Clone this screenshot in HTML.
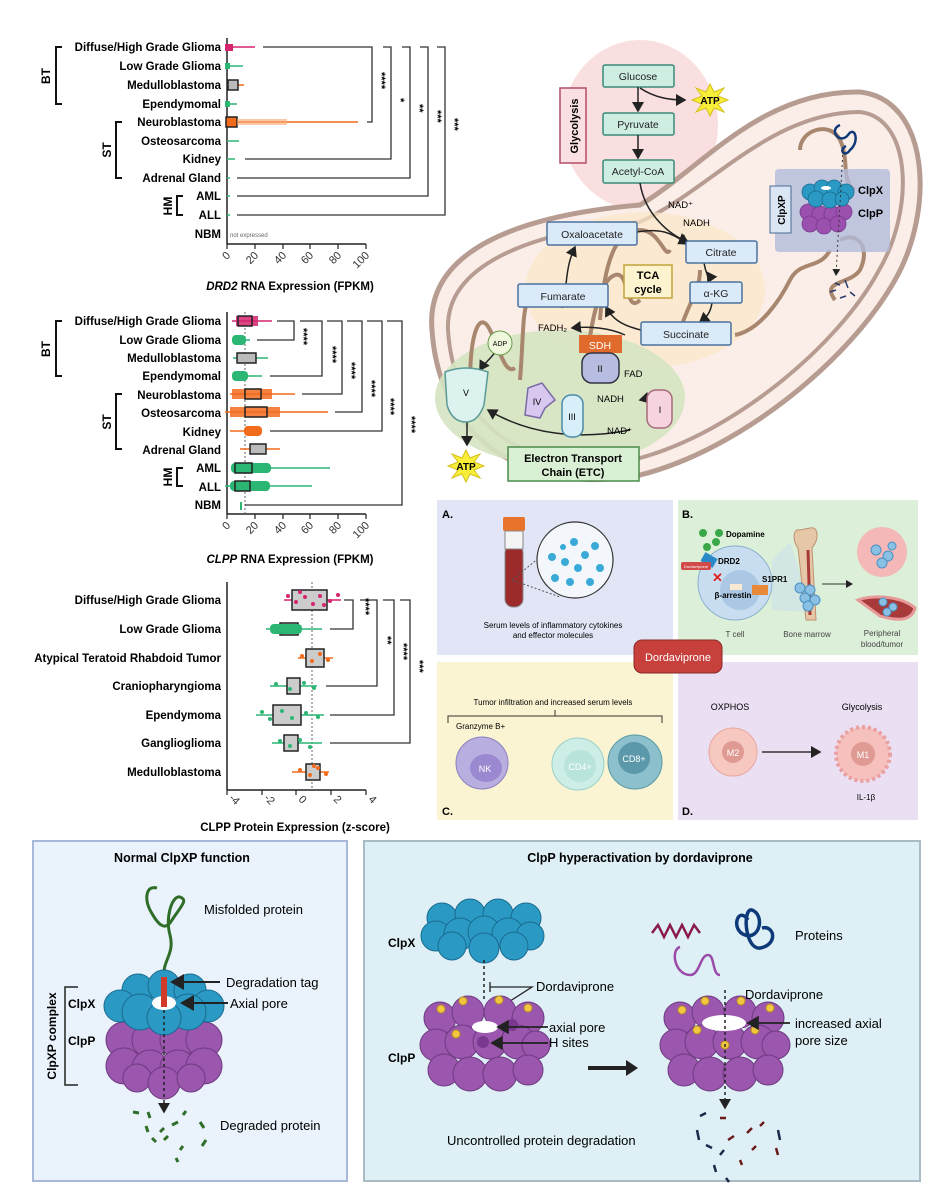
<!DOCTYPE html>
<html><head><meta charset="utf-8"><style>
body{margin:0;background:#fff}
svg{display:block;font-family:"Liberation Sans",sans-serif}
.lb{font-weight:bold;font-size:11.5px;text-anchor:end}
</style></head><body>
<svg width="935" height="1200" viewBox="0 0 935 1200" xmlns="http://www.w3.org/2000/svg">
<defs>
<marker id="ar" markerWidth="8" markerHeight="8" refX="6" refY="4" orient="auto"><path d="M0,0 L7,4 L0,8 z" fill="#222"/></marker>
</defs>

<!-- ===== Chart 1 ===== -->
<g>
<line x1="227" y1="38" x2="227" y2="244" stroke="#222" stroke-width="1.5"/>
<line x1="227" y1="244" x2="366" y2="244" stroke="#222" stroke-width="1.5"/>
<g stroke="#222" stroke-width="1.2">
<line x1="227" y1="244" x2="227" y2="249"/><line x1="255" y1="244" x2="255" y2="249"/><line x1="283" y1="244" x2="283" y2="249"/><line x1="310" y1="244" x2="310" y2="249"/><line x1="338" y1="244" x2="338" y2="249"/><line x1="366" y1="244" x2="366" y2="249"/>
</g>
<g font-size="11" fill="#333">
<text transform="translate(231,256) rotate(-45)" text-anchor="end">0</text>
<text transform="translate(259,256) rotate(-45)" text-anchor="end">20</text>
<text transform="translate(287,256) rotate(-45)" text-anchor="end">40</text>
<text transform="translate(314,256) rotate(-45)" text-anchor="end">60</text>
<text transform="translate(342,256) rotate(-45)" text-anchor="end">80</text>
<text transform="translate(370,256) rotate(-45)" text-anchor="end">100</text>
</g>
<text x="290" y="290" font-size="11.5" font-weight="bold" text-anchor="middle"><tspan font-style="italic">DRD2</tspan> RNA Expression (FPKM)</text>
<g class="lb">
<text x="221" y="51">Diffuse/High Grade Glioma</text>
<text x="221" y="70">Low Grade Glioma</text>
<text x="221" y="89">Medulloblastoma</text>
<text x="221" y="108">Ependymomal</text>
<text x="221" y="126">Neuroblastoma</text>
<text x="221" y="145">Osteosarcoma</text>
<text x="221" y="163">Kidney</text>
<text x="221" y="182">Adrenal Gland</text>
<text x="221" y="200">AML</text>
<text x="221" y="219">ALL</text>
<text x="221" y="238">NBM</text>
</g>
<text x="230" y="237" font-size="6" fill="#666">not expressed</text>
<g stroke="#111" stroke-width="2" fill="none">
<path d="M62,47 H56 V104 H62"/><path d="M122,122 H116 V178 H122"/><path d="M183,196 H177 V215 H183"/>
</g>
<g font-weight="bold" font-size="12">
<text transform="translate(50,76) rotate(-90)" text-anchor="middle">BT</text>
<text transform="translate(111,150) rotate(-90)" text-anchor="middle">ST</text>
<text transform="translate(172,206) rotate(-90)" text-anchor="middle">HM</text>
</g>
<g stroke-width="1.5">
<line x1="227" y1="47" x2="255" y2="47" stroke="#d6246e"/><rect x="225" y="44" width="8" height="7" fill="#d6246e"/>
<line x1="227" y1="66" x2="243" y2="66" stroke="#2bb673"/><rect x="225" y="63" width="5" height="6" fill="#2bb673"/>
<line x1="227" y1="85" x2="244" y2="85" stroke="#f26b1d"/><rect x="228" y="80" width="10" height="10" fill="#bbb" stroke="#222"/>
<line x1="227" y1="104" x2="237" y2="104" stroke="#2bb673"/><rect x="225" y="101" width="5" height="6" fill="#2bb673"/>
<line x1="227" y1="122" x2="358" y2="122" stroke="#f26b1d"/><rect x="226" y="117" width="11" height="10" fill="#f26b1d" stroke="#222"/><rect x="237" y="119" width="50" height="6" fill="#f8a470" opacity=".6"/>
<line x1="227" y1="141" x2="239" y2="141" stroke="#2bb673"/>
<line x1="227" y1="159" x2="235" y2="159" stroke="#2bb673"/>
<line x1="227" y1="178" x2="230" y2="178" stroke="#2bb673"/>
<line x1="227" y1="196" x2="230" y2="196" stroke="#2bb673"/>
<line x1="227" y1="215" x2="230" y2="215" stroke="#2bb673"/>
</g>
<g stroke="#333" stroke-width="1.3" fill="none">
<path d="M263,47 H372 V122 H367"/>
<path d="M383,47 H391 V159 H245"/>
<path d="M402,47 H410 V178 H237"/>
<path d="M420,47 H428 V196 H237"/>
<path d="M437,47 H445 V215 H237"/>
</g>
<g font-size="11" font-weight="bold">
<text transform="translate(378,72) rotate(90)">****</text>
<text transform="translate(397,98) rotate(90)">*</text>
<text transform="translate(416,104) rotate(90)">**</text>
<text transform="translate(434,110) rotate(90)">***</text>
<text transform="translate(451,118) rotate(90)">***</text>
</g>
</g>

<!-- ===== Chart 2 ===== -->
<g>
<line x1="227" y1="312" x2="227" y2="514" stroke="#222" stroke-width="1.5"/>
<line x1="227" y1="514" x2="366" y2="514" stroke="#222" stroke-width="1.5"/>
<line x1="245" y1="312" x2="245" y2="514" stroke="#666" stroke-dasharray="2,2"/>
<g stroke="#222" stroke-width="1.2">
<line x1="227" y1="514" x2="227" y2="519"/><line x1="255" y1="514" x2="255" y2="519"/><line x1="283" y1="514" x2="283" y2="519"/><line x1="310" y1="514" x2="310" y2="519"/><line x1="338" y1="514" x2="338" y2="519"/><line x1="366" y1="514" x2="366" y2="519"/>
</g>
<g font-size="11" fill="#333">
<text transform="translate(231,526) rotate(-45)" text-anchor="end">0</text>
<text transform="translate(259,526) rotate(-45)" text-anchor="end">20</text>
<text transform="translate(287,526) rotate(-45)" text-anchor="end">40</text>
<text transform="translate(314,526) rotate(-45)" text-anchor="end">60</text>
<text transform="translate(342,526) rotate(-45)" text-anchor="end">80</text>
<text transform="translate(370,526) rotate(-45)" text-anchor="end">100</text>
</g>
<text x="290" y="563" font-size="11.5" font-weight="bold" text-anchor="middle"><tspan font-style="italic">CLPP</tspan> RNA Expression (FPKM)</text>
<g class="lb">
<text x="221" y="325">Diffuse/High Grade Glioma</text>
<text x="221" y="344">Low Grade Glioma</text>
<text x="221" y="362">Medulloblastoma</text>
<text x="221" y="380">Ependymomal</text>
<text x="221" y="399">Neuroblastoma</text>
<text x="221" y="417">Osteosarcoma</text>
<text x="221" y="436">Kidney</text>
<text x="221" y="454">Adrenal Gland</text>
<text x="221" y="472">AML</text>
<text x="221" y="491">ALL</text>
<text x="221" y="509">NBM</text>
</g>
<g stroke="#111" stroke-width="2" fill="none">
<path d="M62,321 H56 V376 H62"/><path d="M122,394 H116 V449 H122"/><path d="M183,468 H177 V486 H183"/>
</g>
<g font-weight="bold" font-size="12">
<text transform="translate(50,349) rotate(-90)" text-anchor="middle">BT</text>
<text transform="translate(111,422) rotate(-90)" text-anchor="middle">ST</text>
<text transform="translate(172,477) rotate(-90)" text-anchor="middle">HM</text>
</g>
<g stroke-width="1.5">
<line x1="232" y1="321" x2="272" y2="321" stroke="#d6246e"/><rect x="236" y="316" width="22" height="10" fill="#d6246e" opacity=".85"/><rect x="238" y="316" width="14" height="10" fill="none" stroke="#222"/>
<line x1="235" y1="340" x2="250" y2="340" stroke="#2bb673"/><rect x="232" y="335" width="14" height="10" rx="4" fill="#2bb673"/>
<line x1="233" y1="358" x2="268" y2="358" stroke="#2bb673"/><rect x="237" y="353" width="19" height="10" fill="#bbb" stroke="#222"/>
<line x1="235" y1="376" x2="262" y2="376" stroke="#2bb673"/><rect x="232" y="371" width="16" height="10" rx="4" fill="#2bb673"/>
<line x1="230" y1="394" x2="295" y2="394" stroke="#f26b1d"/><rect x="232" y="389" width="40" height="10" fill="#f26b1d" opacity=".85"/><rect x="245" y="389" width="16" height="10" fill="none" stroke="#222"/>
<line x1="225" y1="412" x2="328" y2="412" stroke="#f26b1d"/><rect x="230" y="407" width="50" height="10" fill="#f26b1d" opacity=".85"/><rect x="245" y="407" width="22" height="10" fill="none" stroke="#222"/>
<line x1="230" y1="431" x2="262" y2="431" stroke="#f26b1d"/><rect x="244" y="426" width="18" height="10" rx="4" fill="#f26b1d"/>
<line x1="240" y1="449" x2="280" y2="449" stroke="#f26b1d"/><rect x="250" y="444" width="16" height="10" fill="#bbb" stroke="#222"/>
<line x1="232" y1="468" x2="330" y2="468" stroke="#2bb673"/><rect x="231" y="463" width="40" height="10" rx="4" fill="#2bb673"/><rect x="235" y="463" width="17" height="10" fill="none" stroke="#222"/>
<line x1="225" y1="486" x2="312" y2="486" stroke="#2bb673"/><rect x="230" y="481" width="40" height="10" rx="4" fill="#2bb673"/><rect x="235" y="481" width="15" height="10" fill="none" stroke="#222"/>
<line x1="241" y1="502" x2="241" y2="510" stroke="#2bb673" stroke-width="2"/>
</g>
<g stroke="#333" stroke-width="1.3" fill="none">
<path d="M277,321 H294 V340 H257"/>
<path d="M300,321 H322 V376 H270"/>
<path d="M327,321 H342 V394 H302"/>
<path d="M347,321 H362 V412 H335"/>
<path d="M367,321 H382 V431 H270"/>
<path d="M387,321 H402 V505 H245"/>
</g>
<g font-size="11" font-weight="bold">
<text transform="translate(300,328) rotate(90)">****</text>
<text transform="translate(329,346) rotate(90)">****</text>
<text transform="translate(348,362) rotate(90)">****</text>
<text transform="translate(368,380) rotate(90)">****</text>
<text transform="translate(387,398) rotate(90)">****</text>
<text transform="translate(408,416) rotate(90)">****</text>
</g>
</g>

<!-- ===== Chart 3 ===== -->
<g>
<line x1="227" y1="582" x2="227" y2="790" stroke="#222" stroke-width="1.5"/>
<line x1="227" y1="790" x2="366" y2="790" stroke="#222" stroke-width="1.5"/>
<line x1="312" y1="582" x2="312" y2="790" stroke="#666" stroke-dasharray="2,2"/>
<g stroke="#222" stroke-width="1.2">
<line x1="227" y1="790" x2="227" y2="795"/><line x1="262" y1="790" x2="262" y2="795"/><line x1="296" y1="790" x2="296" y2="795"/><line x1="331" y1="790" x2="331" y2="795"/><line x1="366" y1="790" x2="366" y2="795"/>
</g>
<g font-size="11" fill="#333">
<text transform="translate(232,802) rotate(45)" text-anchor="middle">-4</text>
<text transform="translate(267,802) rotate(45)" text-anchor="middle">-2</text>
<text transform="translate(300,802) rotate(45)" text-anchor="middle">0</text>
<text transform="translate(335,802) rotate(45)" text-anchor="middle">2</text>
<text transform="translate(370,802) rotate(45)" text-anchor="middle">4</text>
</g>
<text x="295" y="831" font-size="11.5" font-weight="bold" text-anchor="middle">CLPP Protein Expression (z-score)</text>
<g class="lb">
<text x="221" y="604">Diffuse/High Grade Glioma</text>
<text x="221" y="633">Low Grade Glioma</text>
<text x="221" y="662">Atypical Teratoid Rhabdoid Tumor</text>
<text x="221" y="690">Craniopharyngioma</text>
<text x="221" y="719">Ependymoma</text>
<text x="221" y="747">Ganglioglioma</text>
<text x="221" y="776">Medulloblastoma</text>
</g>
<g stroke-width="1.5" stroke="#222">
<line x1="284" y1="600" x2="341" y2="600" stroke="#d6246e"/><rect x="292" y="590" width="35" height="20" fill="#ccc"/>
<line x1="266" y1="629" x2="322" y2="629" stroke="#2bb673"/><rect x="280" y="623" width="18" height="12" fill="#ccc"/><rect x="270" y="624" width="32" height="10" rx="4" fill="#2bb673" stroke="none"/>
<line x1="298" y1="658" x2="333" y2="658" stroke="#f26b1d"/><rect x="306" y="649" width="18" height="18" fill="#ccc"/>
<line x1="270" y1="686" x2="317" y2="686" stroke="#2bb673"/><rect x="287" y="678" width="13" height="16" fill="#ccc"/>
<line x1="256" y1="715" x2="324" y2="715" stroke="#2bb673"/><rect x="273" y="705" width="28" height="20" fill="#ccc"/>
<line x1="272" y1="743" x2="322" y2="743" stroke="#2bb673"/><rect x="284" y="735" width="14" height="16" fill="#ccc"/>
<line x1="292" y1="772" x2="329" y2="772" stroke="#f26b1d"/><rect x="306" y="764" width="14" height="16" fill="#ccc"/>
</g>
<g>
<g fill="#d6246e"><circle cx="288" cy="596" r="2"/><circle cx="296" cy="602" r="2"/><circle cx="305" cy="597" r="2"/><circle cx="313" cy="604" r="2"/><circle cx="320" cy="596" r="2"/><circle cx="330" cy="601" r="2"/><circle cx="338" cy="595" r="2"/><circle cx="300" cy="592" r="2"/><circle cx="324" cy="605" r="2"/></g>
<g fill="#f26b1d"><circle cx="302" cy="656" r="2"/><circle cx="312" cy="661" r="2"/><circle cx="320" cy="654" r="2"/><circle cx="328" cy="660" r="2"/><circle cx="300" cy="770" r="2"/><circle cx="310" cy="775" r="2"/><circle cx="318" cy="768" r="2"/><circle cx="326" cy="774" r="2"/><circle cx="314" cy="766" r="2"/></g>
<g fill="#2bb673"><circle cx="276" cy="684" r="2"/><circle cx="290" cy="689" r="2"/><circle cx="304" cy="683" r="2"/><circle cx="314" cy="688" r="2"/><circle cx="262" cy="712" r="2"/><circle cx="270" cy="719" r="2"/><circle cx="282" cy="711" r="2"/><circle cx="292" cy="718" r="2"/><circle cx="306" cy="713" r="2"/><circle cx="318" cy="717" r="2"/><circle cx="280" cy="741" r="2"/><circle cx="290" cy="746" r="2"/><circle cx="300" cy="740" r="2"/><circle cx="310" cy="747" r="2"/></g>
</g>
<g stroke="#333" stroke-width="1.3" fill="none">
<path d="M344,600 H353 V629 H330"/>
<path d="M360,600 H377 V686 H326"/>
<path d="M383,600 H394 V715 H330"/>
<path d="M400,600 H410 V743 H330"/>
</g>
<g font-size="11" font-weight="bold">
<text transform="translate(362,598) rotate(90)">****</text>
<text transform="translate(384,636) rotate(90)">**</text>
<text transform="translate(400,643) rotate(90)">****</text>
<text transform="translate(416,660) rotate(90)">***</text>
</g>
</g>

<!-- ===== Mitochondrion ===== -->
<g>
<ellipse cx="640" cy="125" rx="78" ry="85" fill="#fadfe0"/>
<path d="M432,330 C425,250 520,215 640,205 C700,170 760,90 860,92 C930,100 935,210 895,280 C850,360 740,450 640,475 C540,495 440,450 432,330 Z" fill="#fbeee8" stroke="#b79c92" stroke-width="5"/>
<path d="M448,330 C445,265 530,232 640,222 C710,190 770,112 860,112 C912,118 915,210 878,272 C838,345 735,432 640,458 C545,478 455,440 448,330 Z" fill="none" stroke="#b79c92" stroke-width="4"/>
<ellipse cx="645" cy="290" rx="120" ry="78" fill="#fbe8c8" opacity=".7"/>
<ellipse cx="560" cy="398" rx="125" ry="68" fill="#d5e4c2" opacity=".9"/>
<g fill="none" stroke="#a8876e" stroke-width="4">
<path d="M470,385 C470,330 480,310 490,330 C500,350 505,375 515,368"/>
<path d="M520,380 C525,320 520,295 540,290 C560,285 560,320 565,300"/>
<path d="M585,380 C590,320 600,280 615,275 C630,270 625,315 640,300"/>
<path d="M600,320 C605,250 620,230 640,230 C660,230 665,260 670,250"/>
<path d="M680,330 C690,300 700,290 700,270"/>
<path d="M735,335 C760,330 780,300 790,280 C800,260 820,270 830,250"/>
<path d="M800,150 C800,130 830,120 840,140 C850,160 840,180 855,190"/>
<path d="M840,240 C860,230 870,250 860,270 C850,285 820,280 835,300"/>
</g>
<rect x="560" y="88" width="26" height="75" fill="#fae0e2" stroke="#b44c6a" stroke-width="1.5"/>
<text transform="translate(578,126) rotate(-90)" font-size="11" font-weight="bold" text-anchor="middle">Glycolysis</text>
<g fill="#cfeee3" stroke="#3a8a78" stroke-width="1.5">
<rect x="603" y="65" width="71" height="22" rx="2"/><rect x="603" y="113" width="71" height="22" rx="2"/><rect x="603" y="160" width="71" height="23" rx="2"/>
</g>
<g font-size="10.5" text-anchor="middle" fill="#222">
<text x="638" y="80">Glucose</text><text x="638" y="128">Pyruvate</text><text x="638" y="175">Acetyl-CoA</text>
</g>
<g stroke="#222" stroke-width="1.5" fill="none" marker-end="url(#ar)">
<line x1="638" y1="87" x2="638" y2="111"/><line x1="638" y1="135" x2="638" y2="158"/>
<path d="M640,88 C655,98 670,100 685,100"/>
<path d="M640,183 C645,215 670,235 688,242"/>
<path d="M637,232 C660,228 670,232 688,244"/>
<path d="M704,263 C706,275 710,278 708,282"/>
<path d="M712,303 C710,315 705,318 700,322"/>
<path d="M641,330 C620,325 612,318 606,307"/>
<path d="M566,284 C568,265 570,258 575,247"/>
<path d="M625,335 C610,328 590,326 572,328"/>
<path d="M658,398 C650,392 648,398 640,400"/>
<path d="M630,430 C580,440 530,435 488,410"/>
<path d="M467,420 L467,445"/>
<path d="M495,352 C490,360 485,362 480,370"/>
</g>
<polygon points="710,84 714,92 724,88 718,96 728,100 718,104 724,112 714,108 710,116 706,108 696,112 702,104 692,100 702,96 696,88 706,92" fill="#f8ee3a" stroke="#d6c01b"/>
<text x="710" y="104" font-size="10" font-weight="bold" text-anchor="middle">ATP</text>
<text x="668" y="208" font-size="9.5">NAD⁺</text><text x="683" y="226" font-size="9.5">NADH</text>
<g fill="#dbeaf8" stroke="#4a72a0" stroke-width="1.5">
<rect x="547" y="222" width="90" height="23" rx="2"/><rect x="686" y="241" width="71" height="22" rx="2"/><rect x="690" y="282" width="52" height="21" rx="2"/><rect x="518" y="284" width="90" height="23" rx="2"/><rect x="641" y="322" width="90" height="23" rx="2"/>
</g>
<g font-size="10.5" text-anchor="middle" fill="#222">
<text x="592" y="238">Oxaloacetate</text><text x="721" y="256">Citrate</text><text x="716" y="297">α-KG</text><text x="563" y="300">Fumarate</text><text x="686" y="338">Succinate</text>
</g>
<rect x="624" y="265" width="48" height="33" fill="#fdf3cf" stroke="#c4a33a" stroke-width="1.5"/>
<text x="648" y="279" font-size="11" font-weight="bold" text-anchor="middle">TCA</text><text x="648" y="293" font-size="11" font-weight="bold" text-anchor="middle">cycle</text>
<text x="538" y="331" font-size="9.5">FADH₂</text>
<rect x="579" y="335" width="43" height="18" fill="#e06b2c"/><text x="600" y="349" font-size="10.5" fill="#fff" text-anchor="middle">SDH</text>
<rect x="582" y="353" width="37" height="30" rx="10" fill="#b6bde0" stroke="#334" stroke-width="1.5"/><text x="600" y="372" font-size="9" text-anchor="middle">II</text>
<text x="624" y="377" font-size="9.5">FAD</text>
<circle cx="500" cy="343" r="12" fill="#eef7dc" stroke="#6a9a4a"/><text x="500" y="346" font-size="7" text-anchor="middle">ADP</text>
<path d="M445,372 Q466,364 488,372 L484,405 Q478,422 466,422 Q452,422 447,405 Z" fill="#dbf2ee" stroke="#5a9a96" stroke-width="1.5"/><text x="466" y="396" font-size="9" text-anchor="middle">V</text>
<path d="M528,388 L542,383 L555,400 L545,408 L540,418 L525,415 Z" fill="#d8c8ef" stroke="#7a6aa8" stroke-width="1.5"/><text x="537" y="405" font-size="9" text-anchor="middle">IV</text>
<rect x="562" y="395" width="21" height="42" rx="9" fill="#d8eef8" stroke="#4a8aa8" stroke-width="1.5"/><text x="572" y="420" font-size="9" text-anchor="middle">III</text>
<rect x="647" y="390" width="25" height="38" rx="9" fill="#f5d3df" stroke="#a86a7a" stroke-width="1.5"/><text x="660" y="413" font-size="9" text-anchor="middle">I</text>
<text x="597" y="402" font-size="9.5">NADH</text><text x="607" y="434" font-size="9.5">NAD⁺</text>
<rect x="508" y="447" width="131" height="34" fill="#d9f0d5" stroke="#4a8a4a" stroke-width="1.5"/>
<text x="573" y="462" font-size="11" font-weight="bold" text-anchor="middle">Electron Transport</text><text x="573" y="476" font-size="11" font-weight="bold" text-anchor="middle">Chain (ETC)</text>
<polygon points="466,450 470,458 480,454 474,462 484,466 474,470 480,478 470,474 466,482 462,474 452,478 458,470 448,466 458,462 452,454 462,458" fill="#f8ee3a" stroke="#d6c01b"/>
<text x="466" y="470" font-size="10" font-weight="bold" text-anchor="middle">ATP</text>
<rect x="775" y="169" width="115" height="83" rx="4" fill="#b3bcdc" opacity=".8"/>
<rect x="770" y="186" width="21" height="47" fill="#dbe6f4" stroke="#4a6a90"/>
<text transform="translate(785,210) rotate(-90)" font-size="10" font-weight="bold" text-anchor="middle">ClpXP</text>
<g fill="#9b4fae" stroke="#7a3a8c" stroke-width=".8"><circle cx="808" cy="212" r="8"/><circle cx="820" cy="214" r="8"/><circle cx="832" cy="214" r="8"/><circle cx="844" cy="212" r="8"/><circle cx="810" cy="224" r="8"/><circle cx="824" cy="226" r="8"/><circle cx="838" cy="224" r="8"/></g>
<g fill="#2a9ac4" stroke="#1a6a90" stroke-width=".8"><circle cx="810" cy="192" r="8"/><circle cx="822" cy="188" r="8"/><circle cx="834" cy="188" r="8"/><circle cx="846" cy="192" r="8"/><circle cx="816" cy="199" r="8"/><circle cx="830" cy="200" r="8"/><circle cx="842" cy="199" r="7"/></g>
<ellipse cx="826" cy="188" rx="5" ry="2" fill="#fff"/>
<text x="858" y="194" font-size="11" font-weight="bold">ClpX</text><text x="858" y="217" font-size="11" font-weight="bold">ClpP</text>
<path d="M840,125 C828,130 840,145 848,135 C855,125 860,142 850,150 C845,158 838,150 846,146" fill="none" stroke="#123a7a" stroke-width="2.5"/>
<line x1="843" y1="150" x2="836" y2="275" stroke="#333" stroke-dasharray="2,3" marker-end="url(#ar)"/>
<g stroke="#2a3a6a" stroke-width="1.5"><line x1="835" y1="283" x2="840" y2="285"/><line x1="845" y1="280" x2="848" y2="288"/><line x1="830" y1="292" x2="836" y2="290"/><line x1="850" y1="292" x2="855" y2="296"/><line x1="840" y1="298" x2="846" y2="296"/></g>
</g>

<!-- ===== Panels A-D ===== -->
<rect x="437" y="500" width="236" height="155" fill="#e1e5f6"/>
<rect x="678" y="500" width="240" height="155" fill="#dcefd8"/>
<rect x="437" y="662" width="236" height="158" fill="#fbf4d2"/>
<rect x="678" y="662" width="240" height="158" fill="#ebdff3"/>
<g font-size="11" font-weight="bold"><text x="442" y="518">A.</text><text x="682" y="518">B.</text><text x="442" y="815">C.</text><text x="682" y="815">D.</text></g>
<rect x="505" y="545" width="18" height="62" rx="8" fill="#9c2a2a" stroke="#888"/>
<rect x="503" y="517" width="22" height="14" rx="2" fill="#e8732a"/>
<rect x="505" y="531" width="18" height="18" fill="#f4f4f4" stroke="#888"/>
<line x1="512" y1="580" x2="545" y2="553" stroke="#555" stroke-dasharray="2,2"/><line x1="512" y1="580" x2="560" y2="597" stroke="#555" stroke-dasharray="2,2"/>
<circle cx="575" cy="560" r="38" fill="#f3f6fb" stroke="#333" stroke-width="1.2"/>
<g fill="#3aaad8"><circle cx="552" cy="557" r="4"/><circle cx="574" cy="542" r="4"/><circle cx="595" cy="546" r="4"/><circle cx="565" cy="562" r="4"/><circle cx="585" cy="555" r="4"/><circle cx="578" cy="568" r="4"/><circle cx="600" cy="568" r="4"/><circle cx="555" cy="578" r="4"/><circle cx="570" cy="582" r="4"/><circle cx="590" cy="582" r="4"/><circle cx="563" cy="547" r="3"/></g>
<text x="553" y="628" font-size="8" text-anchor="middle">Serum levels of inflammatory cytokines</text>
<text x="553" y="638" font-size="8" text-anchor="middle">and effector molecules</text>
<circle cx="735" cy="583" r="37" fill="#c8def0" stroke="#8ab0cc"/>
<circle cx="740" cy="590" r="20" fill="#aac8e4"/>
<path d="M772,560 L790,542 L812,612 L772,610 Z" fill="#c8def0" opacity=".5"/>
<g fill="#3aa84a"><circle cx="703" cy="533" r="4"/><circle cx="719" cy="533" r="4"/><circle cx="716" cy="542" r="4"/><circle cx="707" cy="547" r="4"/></g>
<text x="726" y="537" font-size="8" font-weight="bold">Dopamine</text>
<rect x="702" y="555" width="14" height="10" fill="#2a8ac8" transform="rotate(30 709 560)"/>
<text x="718" y="564" font-size="8" font-weight="bold">DRD2</text>
<rect x="681" y="562" width="30" height="8" rx="2" fill="#d04a4a"/><text x="696" y="568" font-size="4" fill="#fff" text-anchor="middle">Dordaviprone</text>
<text x="712" y="582" font-size="13" fill="#e02020" font-weight="bold">✕</text>
<rect x="730" y="584" width="12" height="6" fill="#fbe8d0"/>
<text x="733" y="598" font-size="8" font-weight="bold" text-anchor="middle">β-arrestin</text>
<text x="762" y="582" font-size="8" font-weight="bold">S1PR1</text>
<rect x="752" y="585" width="16" height="10" fill="#e8893a"/>
<path d="M800,530 C793,528 792,540 798,548 L806,620 L816,620 L812,548 C820,538 818,526 810,528 Z" fill="#e6c8a8" stroke="#c09070"/>
<line x1="808" y1="550" x2="810" y2="615" stroke="#a83a3a" stroke-width="3"/>
<g fill="#8ac0e4" stroke="#4a90c0"><circle cx="800" cy="588" r="5"/><circle cx="810" cy="590" r="5"/><circle cx="805" cy="598" r="5"/><circle cx="815" cy="600" r="5"/><circle cx="808" cy="606" r="5"/></g>
<line x1="822" y1="584" x2="852" y2="584" stroke="#333" marker-end="url(#ar)"/>
<circle cx="882" cy="552" r="25" fill="#f4b8b8"/>
<g fill="#8ac0e4" stroke="#4a90c0"><circle cx="876" cy="550" r="5"/><circle cx="888" cy="556" r="5"/><circle cx="882" cy="563" r="5"/><circle cx="892" cy="546" r="4"/></g>
<path d="M858,600 C870,595 900,595 915,608 C912,620 900,622 880,616 Z" fill="#a83a3a" stroke="#e89a9a" stroke-width="3"/>
<g fill="#8ac0e4" stroke="#4a90c0"><circle cx="883" cy="602" r="4"/><circle cx="893" cy="607" r="4"/><circle cx="887" cy="612" r="4"/></g>
<text x="735" y="637" font-size="8" text-anchor="middle" fill="#444">T cell</text>
<text x="807" y="637" font-size="8" text-anchor="middle" fill="#444">Bone marrow</text>
<text x="882" y="636" font-size="8" text-anchor="middle" fill="#444">Peripheral</text>
<text x="882" y="647" font-size="8" text-anchor="middle" fill="#444">blood/tumor</text>
<text x="553" y="705" font-size="8" text-anchor="middle">Tumor infiltration and increased serum levels</text>
<path d="M448,723 V716 H662 V723 M555,716 V710" fill="none" stroke="#333"/>
<text x="456" y="729" font-size="8">Granzyme B+</text>
<circle cx="482" cy="763" r="26" fill="#b8aee0" stroke="#8a80c0"/><ellipse cx="486" cy="768" rx="16" ry="14" fill="#9a88d0"/><text x="485" y="772" font-size="9" fill="#fff" text-anchor="middle">NK</text>
<circle cx="578" cy="764" r="26" fill="#cdeee6" stroke="#9ad0c8"/><circle cx="580" cy="766" r="16" fill="#b8e4dc"/><text x="580" y="770" font-size="9" fill="#fff" text-anchor="middle">CD4+</text>
<circle cx="635" cy="762" r="27" fill="#8cc0cc" stroke="#5a9aa8"/><circle cx="634" cy="758" r="16" fill="#5a98aa"/><text x="634" y="762" font-size="9" fill="#fff" text-anchor="middle">CD8+</text>
<text x="730" y="710" font-size="9" text-anchor="middle">OXPHOS</text>
<text x="862" y="710" font-size="9" text-anchor="middle">Glycolysis</text>
<circle cx="733" cy="752" r="24" fill="#f6c8c0" stroke="#e8a8a0"/><circle cx="733" cy="752" r="11" fill="#e09a94"/><text x="733" y="756" font-size="9" fill="#fff" text-anchor="middle">M2</text>
<line x1="762" y1="752" x2="820" y2="752" stroke="#333" stroke-width="1.5" marker-end="url(#ar)"/>
<circle cx="863" cy="754" r="27" fill="#f6c0bc" stroke="#e8a0a0" stroke-width="4" stroke-dasharray="3,3"/><circle cx="863" cy="754" r="12" fill="#e09a94"/><text x="863" y="758" font-size="9" fill="#fff" text-anchor="middle">M1</text>
<text x="866" y="800" font-size="8" text-anchor="middle">IL-1β</text>
<rect x="634" y="640" width="88" height="33" rx="8" fill="#c8403c" stroke="#8a2a28"/>
<text x="678" y="661" font-size="11" fill="#fff" text-anchor="middle">Dordaviprone</text>

<!-- ===== Bottom panels ===== -->
<rect x="33" y="841" width="314" height="340" fill="#eaf2fb" stroke="#a8b8d8" stroke-width="2"/>
<rect x="364" y="841" width="556" height="340" fill="#def0f6" stroke="#a8bcc4" stroke-width="2"/>
<text x="182" y="862" font-size="12.5" font-weight="bold" text-anchor="middle">Normal ClpXP function</text>
<text x="640" y="862" font-size="12.5" font-weight="bold" text-anchor="middle">ClpP hyperactivation by dordaviprone</text>
<path d="M157,888 C145,885 145,900 150,910 C158,925 165,932 172,920 C182,905 188,900 180,897 C172,895 165,918 170,935 C175,955 162,960 164,978" fill="none" stroke="#2e6e28" stroke-width="3"/>
<g fill="#9b56ad" stroke="#6e3a80" stroke-width="1"><circle cx="124" cy="1040" r="18"/><circle cx="150" cy="1040" r="18"/><circle cx="178" cy="1040" r="18"/><circle cx="204" cy="1040" r="18"/><circle cx="124" cy="1066" r="18"/><circle cx="150" cy="1068" r="18"/><circle cx="178" cy="1068" r="18"/><circle cx="204" cy="1066" r="18"/><circle cx="137" cy="1078" r="14"/><circle cx="164" cy="1083" r="16"/><circle cx="191" cy="1078" r="14"/></g>
<g fill="#2a9ac4" stroke="#1a6a90" stroke-width="1"><circle cx="138" cy="990" r="16"/><circle cx="164" cy="986" r="16"/><circle cx="190" cy="990" r="16"/><circle cx="120" cy="1006" r="16"/><circle cx="208" cy="1006" r="16"/><circle cx="140" cy="1012" r="18"/><circle cx="188" cy="1012" r="18"/><circle cx="164" cy="1018" r="17"/></g>
<ellipse cx="164" cy="1003" rx="12" ry="7" fill="#fff"/>
<rect x="161" y="977" width="6" height="30" fill="#d23a2a"/>
<line x1="164" y1="1010" x2="164" y2="1112" stroke="#222" stroke-dasharray="3,3" stroke-width="1.5" marker-end="url(#ar)"/>
<g stroke="#222" stroke-width="2" marker-end="url(#ar)"><line x1="220" y1="982" x2="172" y2="982"/><line x1="228" y1="1003" x2="182" y2="1003"/></g>
<text x="204" y="914" font-size="13">Misfolded protein</text>
<text x="226" y="987" font-size="13">Degradation tag</text>
<text x="230" y="1008" font-size="13">Axial pore</text>
<text x="220" y="1130" font-size="13">Degraded protein</text>
<text x="68" y="1008" font-size="12" font-weight="bold">ClpX</text>
<text x="68" y="1045" font-size="12" font-weight="bold">ClpP</text>
<path d="M78,987 H65 V1085 H78" fill="none" stroke="#222" stroke-width="1.5"/>
<text transform="translate(56,1036) rotate(-90)" font-size="12" font-weight="bold" text-anchor="middle">ClpXP complex</text>
<g stroke="#2e6e28" stroke-width="3"><line x1="133" y1="1112" x2="139" y2="1113"/><line x1="148" y1="1112" x2="150" y2="1118"/><line x1="183" y1="1115" x2="186" y2="1111"/><line x1="146" y1="1126" x2="148" y2="1132"/><line x1="160" y1="1132" x2="164" y2="1128"/><line x1="172" y1="1125" x2="178" y2="1122"/><line x1="152" y1="1138" x2="156" y2="1142"/><line x1="164" y1="1140" x2="168" y2="1136"/><line x1="200" y1="1122" x2="204" y2="1128"/><line x1="202" y1="1146" x2="206" y2="1140"/><line x1="180" y1="1150" x2="183" y2="1146"/><line x1="176" y1="1158" x2="178" y2="1162"/></g>
<g fill="#2a9ac4" stroke="#1a6a90" stroke-width="1"><circle cx="442" cy="918" r="15"/><circle cx="470" cy="914" r="15"/><circle cx="498" cy="914" r="15"/><circle cx="526" cy="918" r="15"/><circle cx="436" cy="936" r="15"/><circle cx="460" cy="934" r="16"/><circle cx="484" cy="932" r="16"/><circle cx="508" cy="934" r="16"/><circle cx="530" cy="936" r="14"/><circle cx="452" cy="946" r="14"/><circle cx="484" cy="948" r="15"/><circle cx="514" cy="946" r="14"/></g>
<line x1="484" y1="960" x2="484" y2="1000" stroke="#222" stroke-dasharray="3,3" stroke-width="1.5"/>
<path d="M490,982 V992 M490,987 H532 L507,1003" fill="none" stroke="#222" stroke-width="1.3"/>
<g fill="#9b56ad" stroke="#6e3a80" stroke-width="1"><circle cx="440" cy="1018" r="16"/><circle cx="468" cy="1012" r="16"/><circle cx="500" cy="1012" r="16"/><circle cx="528" cy="1018" r="16"/><circle cx="436" cy="1045" r="16"/><circle cx="462" cy="1042" r="17"/><circle cx="490" cy="1042" r="17"/><circle cx="518" cy="1042" r="17"/><circle cx="536" cy="1045" r="14"/><circle cx="444" cy="1070" r="16"/><circle cx="470" cy="1074" r="17"/><circle cx="500" cy="1074" r="17"/><circle cx="528" cy="1070" r="15"/></g>
<ellipse cx="485" cy="1027" rx="13" ry="6" fill="#fff"/>
<circle cx="512" cy="1025" r="6" fill="#7a3890"/><circle cx="483" cy="1042" r="6" fill="#7a3890"/>
<g fill="#f2c640" stroke="#b89020"><circle cx="441" cy="1009" r="4"/><circle cx="463" cy="1001" r="4"/><circle cx="499" cy="1000" r="4"/><circle cx="528" cy="1008" r="4"/><circle cx="456" cy="1034" r="4"/></g>
<g stroke="#222" stroke-width="1.8" marker-end="url(#ar)"><line x1="548" y1="1027" x2="498" y2="1027"/><line x1="548" y1="1043" x2="492" y2="1043"/></g>
<text x="536" y="991" font-size="13">Dordaviprone</text>
<text x="549" y="1032" font-size="13">axial pore</text>
<text x="549" y="1047" font-size="13">H sites</text>
<text x="388" y="947" font-size="12" font-weight="bold">ClpX</text>
<text x="388" y="1062" font-size="12" font-weight="bold">ClpP</text>
<path d="M588,1066 H626 V1060 L638,1068 L626,1076 V1070 H588 Z" fill="#222"/>
<g fill="#9b56ad" stroke="#6e3a80" stroke-width="1"><circle cx="680" cy="1018" r="16"/><circle cx="708" cy="1012" r="16"/><circle cx="740" cy="1012" r="16"/><circle cx="768" cy="1018" r="16"/><circle cx="676" cy="1045" r="16"/><circle cx="702" cy="1042" r="17"/><circle cx="730" cy="1042" r="17"/><circle cx="758" cy="1042" r="17"/><circle cx="776" cy="1045" r="14"/><circle cx="684" cy="1070" r="16"/><circle cx="710" cy="1074" r="17"/><circle cx="740" cy="1074" r="17"/><circle cx="768" cy="1070" r="15"/></g>
<ellipse cx="724" cy="1023" rx="22" ry="8" fill="#fff"/>
<g fill="#f2c640" stroke="#b89020"><circle cx="682" cy="1010" r="4"/><circle cx="705" cy="1001" r="4"/><circle cx="741" cy="1001" r="4"/><circle cx="770" cy="1008" r="4"/><circle cx="697" cy="1030" r="4"/><circle cx="755" cy="1030" r="4"/><circle cx="725" cy="1045" r="4"/></g>
<line x1="725" y1="990" x2="725" y2="1108" stroke="#222" stroke-dasharray="3,3" stroke-width="1.5" marker-end="url(#ar)"/>
<line x1="790" y1="1023" x2="748" y2="1023" stroke="#222" stroke-width="1.8" marker-end="url(#ar)"/>
<text x="745" y="999" font-size="13">Dordaviprone</text>
<text x="795" y="1028" font-size="13">increased axial</text>
<text x="795" y="1045" font-size="13">pore size</text>
<text x="795" y="940" font-size="13">Proteins</text>
<path d="M652,933 L658,925 L664,937 L670,925 L676,937 L682,925 L688,937 L694,925 L700,933" fill="none" stroke="#8a1a4a" stroke-width="2.5"/>
<path d="M680,947 C670,950 675,975 690,975 C700,975 700,955 708,955 C715,955 712,975 720,975" fill="none" stroke="#9a4aa8" stroke-width="2.5"/>
<path d="M748,920 C738,905 730,930 745,935 C760,940 765,915 752,910 C742,908 745,950 760,948 C778,945 775,925 762,928" fill="none" stroke="#0f3a7a" stroke-width="3.5"/>
<text x="447" y="1145" font-size="13">Uncontrolled protein degradation</text>
<g stroke-width="2.5"><line x1="700" y1="1116" x2="706" y2="1113" stroke="#1a2a4a"/><line x1="720" y1="1118" x2="726" y2="1118" stroke="#6a1a1a"/><line x1="697" y1="1130" x2="699" y2="1140" stroke="#1a2a4a"/><line x1="706" y1="1145" x2="712" y2="1148" stroke="#1a2a4a"/><line x1="728" y1="1140" x2="734" y2="1136" stroke="#6a1a1a"/><line x1="747" y1="1133" x2="752" y2="1128" stroke="#6a1a1a"/><line x1="760" y1="1126" x2="764" y2="1122" stroke="#6a1a1a"/><line x1="778" y1="1130" x2="780" y2="1140" stroke="#1a2a4a"/><line x1="720" y1="1155" x2="724" y2="1150" stroke="#1a2a4a"/><line x1="752" y1="1150" x2="756" y2="1146" stroke="#6a1a1a"/><line x1="776" y1="1148" x2="778" y2="1155" stroke="#6a1a1a"/><line x1="714" y1="1165" x2="716" y2="1172" stroke="#1a2a4a"/><line x1="726" y1="1178" x2="729" y2="1182" stroke="#1a2a4a"/><line x1="740" y1="1160" x2="742" y2="1165" stroke="#6a1a1a"/></g>
</svg>
</body></html>
